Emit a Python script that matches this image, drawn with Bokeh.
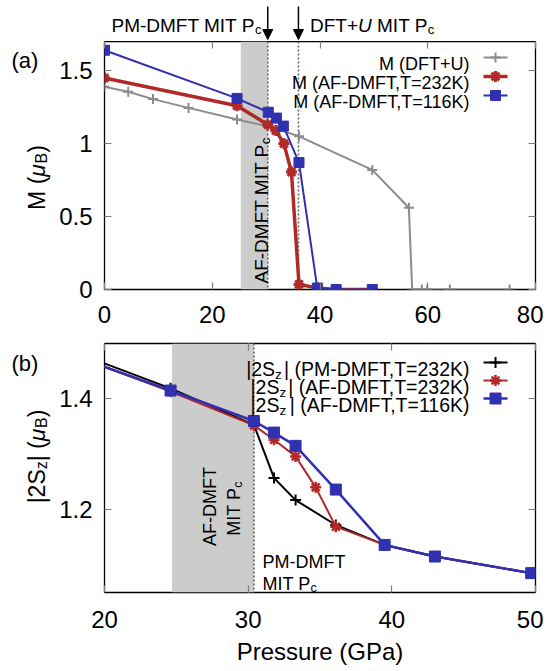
import math
from bokeh.plotting import figure
from bokeh.models import (Label, Span, BoxAnnotation, LinearAxis, FixedTicker,
                          Arrow, NormalHead, Range1d)
from bokeh.layouts import column, row
from bokeh.embed import file_html
from bokeh.resources import INLINE

# ---------------- data ----------------
# panel (a): ordered moment M (mu_B) vs pressure (GPa)
p_dftu = [0, 4.4, 9.0, 15.6, 24.6, 30.2, 36.1, 49.7, 56.5, 57.1, 58.9, 59.9, 64.1, 75.2]
m_dftu = [1.39, 1.355, 1.305, 1.245, 1.165, 1.12, 1.05, 0.82, 0.56, 0.0, 0.0, 0.0, 0.0, 0.0]
p_af232 = [0, 24.6, 30.3, 31.8, 33.3, 34.7, 36.1, 39.5, 43.0, 49.7]
m_af232 = [1.45, 1.26, 1.13, 1.09, 1.0, 0.805, 0.035, 0.01, 0.0, 0.0]
p_af116 = [0, 24.6, 30.4, 31.9, 33.2, 36.1, 39.5, 43.0, 49.7]
m_af116 = [1.64, 1.31, 1.215, 1.175, 1.12, 0.87, 0.01, 0.0, 0.0]

# panel (b): local moment |2S_z| (mu_B) vs pressure (GPa)
p_pm232_s = [0, 24.6, 30.4, 31.8, 33.3, 36.1, 39.5, 43.0, 49.7]
s_pm232 = [1.659, 1.419, 1.353, 1.257, 1.217, 1.172, 1.136, 1.115, 1.085]
p_af232_s = [0, 24.6, 30.4, 31.8, 33.3, 34.7, 36.1, 39.5, 43.0, 49.7]
s_af232 = [1.653, 1.413, 1.352, 1.326, 1.296, 1.240, 1.169, 1.136, 1.115, 1.085]
p_af116_s = [0, 24.6, 30.4, 31.8, 33.3, 36.1, 39.5, 43.0, 49.7]
s_af116 = [1.644, 1.415, 1.360, 1.339, 1.315, 1.236, 1.136, 1.115, 1.085]

# critical pressures / regions
pc_pm_a = 30.3
pc_dftu = 36.0
band_a = (25.3, 30.3)
band_b = (24.7, 30.4)
pc_pm_b = 30.4

# axes
xr_a, yr_a = (0, 80), (0, 1.7)
xt_a = [0, 20, 40, 60, 80]
yt_a = [0, 0.5, 1, 1.5]
ylab_a = {0: "0", 0.5: "0.5", 1: "1", 1.5: "1.5"}
xr_b, yr_b = (20, 50), (1.05, 1.5)
xt_b = [20, 30, 40, 50]
yt_b = [1.2, 1.4]

legend_a = ["M (DFT+U)", "M (AF-DMFT,T=232K)", "M (AF-DMFT,T=116K)"]
legend_b = ["(PM-DMFT,T=232K)", "(AF-DMFT,T=232K)", "(AF-DMFT,T=116K)"]

# ---------------- style ----------------
FONT = "Liberation Sans"
GRAY = "#8c8c8c"
RED = "#b02a2a"
BLUE = "#3030b0"
BLACK = "black"
TICK = "#808080"
DOT = "#666666"
BAND = "#cccccc"

AW = {' ': 278, '|': 260, '(': 333, ')': 333, '-': 333, ',': 278, '=': 584, '+': 584,
      '.': 278, 'A': 667, 'B': 667, 'C': 722, 'D': 722, 'E': 667, 'F': 611, 'G': 778,
      'I': 278, 'K': 667, 'M': 833, 'P': 667, 'S': 667, 'T': 611, 'U': 722,
      'a': 556, 'c': 500, 'e': 556, 'r': 333, 's': 500, 'u': 556, 'z': 500, 'μ': 576}


def tw(s, fs):
    return sum(AW.get(ch, 556) for ch in s) * fs / 1000.0


# ---------------- layout (picture pixels) ----------------
TOTAL_H = 671
LEFT_W = 54        # strip with panel letters / axis titles
FL = 104           # frame left (picture x)
FW = 431           # frame width
MAIN_W = 489       # FL - LEFT_W + FW + 8
BL = FL - LEFT_W   # main figures' left border
BR = MAIN_W - BL - FW
TOP_H = 41


def blank_fig(w, h, xr, yr, bl=0, br=0):
    p = figure(width=w, height=h, x_range=Range1d(*xr), y_range=Range1d(*yr),
               output_backend="svg", toolbar_location=None,
               x_axis_type=None, y_axis_type=None,
               min_border_left=bl, min_border_right=br, min_border_top=0, min_border_bottom=0)
    p.grid.visible = False
    p.outline_line_color = None
    p.background_fill_color = "white"
    p.border_fill_color = "white"
    return p


def make_fig(H, bt, bb, xr, yr, xt, yt, ylab, xstand):
    p = figure(width=MAIN_W, height=H, x_range=Range1d(*xr), y_range=Range1d(*yr),
               output_backend="svg", toolbar_location=None,
               min_border_left=BL, min_border_right=BR,
               min_border_top=bt, min_border_bottom=bb)
    p.grid.visible = False
    p.outline_line_color = "black"
    p.outline_line_width = 1.3
    p.background_fill_color = "white"
    p.border_fill_color = "white"
    xb, yl = p.below[0], p.left[0]
    for ax in (xb, yl):
        ax.axis_line_color = None
        ax.major_tick_in = 7
        ax.major_tick_out = 0
        ax.major_tick_line_color = TICK
        ax.major_tick_line_width = 1.2
        ax.minor_tick_line_color = None
        ax.major_label_text_font = FONT
        ax.major_label_text_font_size = "24px"
        ax.major_label_text_color = "black"
    xb.ticker = FixedTicker(ticks=xt)
    yl.ticker = FixedTicker(ticks=yt)
    xb.major_label_standoff = xstand
    yl.major_label_standoff = 12
    if ylab:
        yl.major_label_overrides = ylab
    for ticks, side in ((xt, "above"), (yt, "right")):
        ax = LinearAxis(ticker=FixedTicker(ticks=ticks), axis_line_color=None,
                        major_tick_in=7, major_tick_out=0, major_tick_line_color=TICK,
                        major_tick_line_width=1.2, minor_tick_line_color=None,
                        major_label_overrides={t: "" for t in ticks},
                        major_label_text_font_size="0px", major_label_standoff=0)
        p.add_layout(ax, side)
    return p, xb


def ctext(p, fl, fb, pieces, x, y, angle=0.0, align="left", color="black"):
    """pieces: (text, size, style, shift_down); x, y: picture coords of the baseline anchor;
    fl, fb: picture coords of the figure frame's left and bottom edges."""
    widths = [tw(t, fs) for t, fs, st, sh in pieces]
    total = sum(widths)
    items = []
    if align == "right":
        end = 0.0
        for (t, fs, st, sh), w in zip(reversed(pieces), reversed(widths)):
            trail = len(t) - len(t.rstrip(" "))
            items.append((t, fs, st, sh, end - tw(" " * trail, fs), "right"))
            end -= w
    else:
        pos = 0.0 if align == "left" else -total / 2
        for (t, fs, st, sh), w in zip(pieces, widths):
            lead = len(t) - len(t.lstrip(" "))
            items.append((t, fs, st, sh, pos + tw(" " * lead, fs), "left"))
            pos += w
    for t, fs, st, sh, off, al in items:
        if angle == 0:
            px, py = x + off, y + sh
        else:
            px, py = x + sh, y - off
        p.add_layout(Label(x=px - fl, y=fb - py, x_units="screen", y_units="screen",
                           text=t.strip(" "), text_font=FONT, text_font_size=f"{fs}px",
                           text_font_style=st, text_align=al,
                           text_baseline="alphabetic", angle=angle, text_color=color))


# ================= left strip =================
pl = blank_fig(LEFT_W, TOTAL_H, (0, LEFT_W), (0, TOTAL_H))
ctext(pl, 0, TOTAL_H, [("(a)", 22, "normal", 0)], 11, 60)
ctext(pl, 0, TOTAL_H, [("M (", 23, "normal", 0), ("μ", 23, "italic", 0),
                       ("B", 16, "normal", 5), (")", 23, "normal", 0)],
      36, 177, angle=math.pi / 2, align="center")
ctext(pl, 0, TOTAL_H, [("(b)", 22, "normal", 0)], 11, 363)
ctext(pl, 0, TOTAL_H, [("|2S", 23, "normal", 0), ("z", 16, "normal", 5), ("| (", 23, "normal", 0),
                       ("μ", 23, "italic", 0), ("B", 16, "normal", 5), (")", 23, "normal", 0)],
      36, 456, angle=math.pi / 2, align="center")

# ================= top strip (annotations above panel a) =================
pt = blank_fig(MAIN_W, TOP_H, xr_a, (0, TOP_H), bl=BL, br=BR)
ctext(pt, FL, TOP_H, [("PM-DMFT MIT P", 19, "normal", 0), ("c", 13, "normal", 4)],
      261, 25.4, align="right")
ctext(pt, FL, TOP_H, [("DFT+", 19, "normal", 0), ("U", 19, "italic", 0),
                      (" MIT P", 19, "normal", 0), ("c", 13, "normal", 4)], 309.5, 25.4)
for loc in (pc_pm_a, pc_dftu):
    pt.add_layout(Arrow(end=NormalHead(size=10, fill_color="black", line_color="black"),
                        x_start=loc, y_start=TOP_H - 6, x_end=loc, y_end=TOP_H - 39,
                        line_width=1.5, line_color="black"))

# ================= panel (a) =================
H1, BT1, FH1 = 293, 0, 248
BB1 = H1 - BT1 - FH1
FT1 = TOP_H + BT1
FB1 = FT1 + FH1
pa, _ = make_fig(H1, BT1, BB1, xr_a, yr_a, xt_a, yt_a, ylab_a, 16)


def ax_a(px):
    return xr_a[0] + (px - FL) / FW * (xr_a[1] - xr_a[0])


def ay_a(py):
    return yr_a[1] - (py - FT1) / FH1 * (yr_a[1] - yr_a[0])


pa.add_layout(BoxAnnotation(left=band_a[0], right=band_a[1], fill_color=BAND, fill_alpha=1.0,
                            line_color=None, level="underlay"))
for loc in (pc_pm_a, pc_dftu):
    pa.add_layout(Span(location=loc, dimension="height", line_color=DOT, line_dash="2 2",
                       line_width=1.6, level="underlay"))

pa.line(p_dftu, m_dftu, line_color=GRAY, line_width=2)
pa.scatter(p_dftu, m_dftu, marker="cross", size=10, line_color=GRAY, line_width=2)
pa.line(p_af232, m_af232, line_color=RED, line_width=3.5)
pa.scatter(p_af232, m_af232, marker="asterisk", size=11, line_color=RED, line_width=3)
pa.line(p_af116, m_af116, line_color=BLUE, line_width=2)
pa.scatter(p_af116, m_af116, marker="square", size=10, fill_color=BLUE, line_color=BLUE)

rows_a = [57, 76, 95]
styles_a = [(GRAY, 2, "cross", 10, 2), (RED, 3.5, "asterisk", 11, 3), (BLUE, 2, "square", 10, 1)]
for lab, ry, (c, lw, mk, ms, mlw) in zip(legend_a, rows_a, styles_a):
    ctext(pa, FL, FB1, [(lab, 18, "normal", 0)], 469, ry + 6.4, align="right")
    pa.line([ax_a(483), ax_a(507)], [ay_a(ry), ay_a(ry)], line_color=c, line_width=lw)
    pa.scatter([ax_a(495)], [ay_a(ry)], marker=mk, size=ms, line_color=c, fill_color=c,
               line_width=mlw)

ctext(pa, FL, FB1, [("AF-DMFT MIT P", 19, "normal", 0), ("c", 13.3, "normal", 4)],
      261, 283, angle=math.pi / 2)

# ================= panel (b) =================
H2, BT2, FH2 = TOTAL_H - TOP_H - H1, 9, 249
BB2 = H2 - BT2 - FH2
FT2 = TOP_H + H1 + BT2
FB2 = FT2 + FH2
pb, xb_b = make_fig(H2, BT2, BB2, xr_b, yr_b, xt_b, yt_b, None, 18)
xb_b.axis_label = "Pressure (GPa)"
xb_b.axis_label_text_font = FONT
xb_b.axis_label_text_font_size = "24px"
xb_b.axis_label_text_font_style = "normal"
xb_b.axis_label_text_color = "black"
xb_b.axis_label_standoff = 7


def bx_b(px):
    return xr_b[0] + (px - FL) / FW * (xr_b[1] - xr_b[0])


def by_b(py):
    return yr_b[1] - (py - FT2) / FH2 * (yr_b[1] - yr_b[0])


pb.add_layout(BoxAnnotation(left=band_b[0], right=band_b[1], fill_color=BAND, fill_alpha=1.0,
                            line_color=None, level="underlay"))
pb.add_layout(Span(location=pc_pm_b, dimension="height", line_color=DOT, line_dash="2 2",
                   line_width=1.6, level="underlay"))

pb.line(p_pm232_s, s_pm232, line_color=BLACK, line_width=2)
pb.scatter(p_pm232_s, s_pm232, marker="cross", size=11, line_color=BLACK, line_width=2)
pb.line(p_af232_s, s_af232, line_color=RED, line_width=2)
pb.scatter(p_af232_s, s_af232, marker="asterisk", size=11, line_color=RED, line_width=2.5)
pb.line(p_af116_s, s_af116, line_color=BLUE, line_width=2.5)
pb.scatter(p_af116_s, s_af116, marker="square", size=11, fill_color=BLUE, line_color=BLUE)

rows_b = [362, 380, 398]
styles_b = [(BLACK, 2, "cross", 11, 2), (RED, 2, "asterisk", 11, 2.5), (BLUE, 2.5, "square", 11, 1)]
for lab, ry, (c, lw, mk, ms, mlw) in zip(legend_b, rows_b, styles_b):
    ctext(pb, FL, FB2, [("|2S", 19.5, "normal", 0), ("z", 13.5, "normal", 5),
                        ("| " + lab, 19.5, "normal", 0)], 469, ry + 6.9, align="right")
    pb.line([bx_b(483), bx_b(507)], [by_b(ry), by_b(ry)], line_color=c, line_width=lw)
    pb.scatter([bx_b(495)], [by_b(ry)], marker=mk, size=ms, line_color=c, fill_color=c,
               line_width=mlw)

ctext(pb, FL, FB2, [("AF-DMFT", 18, "normal", 0)], 209.4, 506, angle=math.pi / 2, align="center")
ctext(pb, FL, FB2, [("MIT P", 18, "normal", 0), ("c", 12.6, "normal", 4)],
      233.4, 508, angle=math.pi / 2, align="center")
ctext(pb, FL, FB2, [("PM-DMFT", 18, "normal", 0)], 262, 561.4)
ctext(pb, FL, FB2, [("MIT P", 18, "normal", 0), ("c", 12.6, "normal", 4)], 262, 583)

layout = row(pl, column(pt, pa, pb))
open("out.html", "w").write(file_html(layout, INLINE))
